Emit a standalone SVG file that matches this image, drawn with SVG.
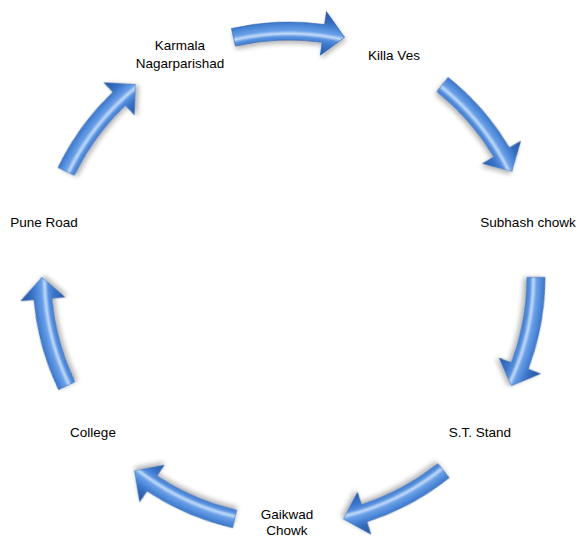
<svg xmlns="http://www.w3.org/2000/svg" width="579" height="540" viewBox="0 0 579 540">
  <style>
    .lbl { font-family: "Liberation Sans", Arial, sans-serif; font-size: 13.5px; fill: #000; text-anchor: middle; }
    .arw { fill: url(#arwGrad); stroke: #2f5fa8; stroke-width: 0.6; filter: url(#shadow); }
  </style>
  <defs>
    <radialGradient id="arwGrad" gradientUnits="userSpaceOnUse" cx="289" cy="278" r="270" fx="289" fy="278">
      <stop offset="0.833" stop-color="#2a5aa6"/>
      <stop offset="0.872" stop-color="#3a74cb"/>
      <stop offset="0.893" stop-color="#5690df"/>
      <stop offset="0.905" stop-color="#c2dcfa"/>
      <stop offset="0.917" stop-color="#6a9fe7"/>
      <stop offset="0.94" stop-color="#4682d4"/>
      <stop offset="0.96" stop-color="#336abb"/>
      <stop offset="1" stop-color="#28559e"/>
    </radialGradient>
    <filter id="shadow" x="-30%" y="-30%" width="160%" height="160%">
      <feGaussianBlur in="SourceAlpha" stdDeviation="2.5"/>
      <feOffset dx="1" dy="3" result="b"/>
      <feComponentTransfer><feFuncA type="linear" slope="0.3"/></feComponentTransfer>
      <feMerge><feMergeNode/><feMergeNode in="SourceGraphic"/></feMerge>
    </filter>
    <path id="arw" d="M231.41,28.56 A256,256 0 0 1 324.63,24.49 L326.44,11.62 L344.56,37.33 L320.31,55.19 L322.12,42.31 A238,238 0 0 0 235.46,46.10 Z"/>
  </defs>
  <rect width="579" height="540" fill="#fff"/>
  <g id="connectors">
    <use href="#arw" class="arw" transform="rotate(0 289 278)"/>
    <use href="#arw" class="arw" transform="rotate(51.4286 289 278)"/>
    <use href="#arw" class="arw" transform="rotate(102.857 289 278)"/>
    <use href="#arw" class="arw" transform="rotate(154.286 289 278)"/>
    <use href="#arw" class="arw" transform="rotate(205.714 289 278)"/>
    <use href="#arw" class="arw" transform="rotate(257.143 289 278)"/>
    <use href="#arw" class="arw" transform="rotate(308.571 289 278)"/>
  </g>
  <g id="node-karmala"><text class="lbl" x="180" y="50">Karmala</text><text class="lbl" x="180" y="68">Nagarparishad</text></g>
  <g id="node-killa"><text class="lbl" x="394" y="60">Killa Ves</text></g>
  <g id="node-subhash"><text class="lbl" x="528" y="227">Subhash chowk</text></g>
  <g id="node-st"><text class="lbl" x="480" y="437">S.T. Stand</text></g>
  <g id="node-gaikwad"><text class="lbl" x="287" y="519">Gaikwad</text><text class="lbl" x="287" y="535">Chowk</text></g>
  <g id="node-college"><text class="lbl" x="93" y="437">College</text></g>
  <g id="node-pune"><text class="lbl" x="44" y="227">Pune Road</text></g>
</svg>
